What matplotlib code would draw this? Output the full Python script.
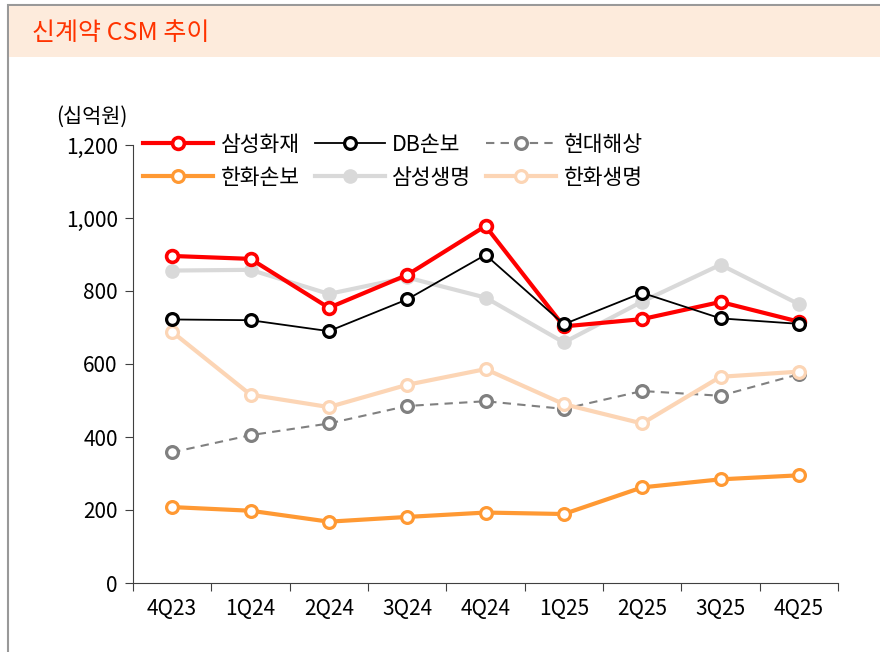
import matplotlib.pyplot as plt
from matplotlib.patches import Rectangle
import numpy as np

plt.rcParams['font.family'] = ['Noto Sans CJK KR', 'DejaVu Sans']

quarters = ['4Q23', '1Q24', '2Q24', '3Q24', '4Q24', '1Q25', '2Q25', '3Q25', '4Q25']
samsung_fire = [896, 888, 754, 844, 978, 703, 723, 770, 716]
db_ins = [722, 720, 690, 777, 899, 709, 795, 725, 710]
hyundai_marine = [358, 405, 437, 485, 498, 477, 526, 513, 572]
hanwha_gen = [208, 198, 168, 181, 193, 189, 262, 284, 295]
samsung_life = [856, 858, 792, 837, 782, 659, 771, 872, 764]
hanwha_life = [688, 516, 482, 543, 586, 490, 437, 565, 579]

fig = plt.figure(figsize=(8.8, 6.52), dpi=100)

# 바깥 테두리 + 제목 띠
fig.patches.append(Rectangle((8/880, -0.1), 1.0, (652-5)/652 + 0.1, transform=fig.transFigure,
                             facecolor='none', edgecolor='#999999', linewidth=1.5, zorder=0))
fig.patches.append(Rectangle((9/880, (652-57)/652), 1.0, 51/652, transform=fig.transFigure,
                             facecolor='#FDEBDC', edgecolor='none', zorder=1))
fig.text(32/880, (652-33)/652, '신계약 CSM 추이', color='#FF3300', fontsize=18, va='center', ha='left')
fig.text(128/880, (652-117)/652, '(십억원)', fontsize=15, va='center', ha='right')

ax = fig.add_axes([133/880, 69/652, 705/880, 438/652])
ax.set_zorder(3)
ax.patch.set_alpha(0)
x = np.arange(len(quarters))

h1, = ax.plot(x, samsung_fire, color='#FF0000', lw=3, marker='o', ms=8.5, mfc='white', mec='#FF0000', mew=2.6, label='삼성화재', zorder=6)
h2, = ax.plot(x, db_ins, color='black', lw=1.3, marker='o', ms=8.5, mfc='white', mec='black', mew=2.3, label='DB손보', zorder=7)
h3, = ax.plot(x, hyundai_marine, color='#808080', lw=1.5, ls=(0, (4, 3)), marker='o', ms=8.5, mfc='white', mec='#808080', mew=2.3, label='현대해상', zorder=3)
h4, = ax.plot(x, hanwha_gen, color='#FF9933', lw=3, marker='o', ms=8.5, mfc='white', mec='#FF9933', mew=2.3, label='한화손보', zorder=4)
h5, = ax.plot(x, samsung_life, color='#D9D9D9', lw=3, marker='o', ms=9.5, mfc='#D9D9D9', mec='#D9D9D9', label='삼성생명', zorder=5)
h6, = ax.plot(x, hanwha_life, color='#FCD5B5', lw=3, marker='o', ms=8.5, mfc='white', mec='#FCD5B5', mew=2.3, label='한화생명', zorder=4)

ax.set_xlim(-0.5, len(quarters) - 0.5)
ax.set_ylim(0, 1200)
ax.set_yticks(np.arange(0, 1201, 200))
ax.set_yticklabels(['{:,}'.format(v) for v in range(0, 1201, 200)], fontsize=15)
ax.set_xticks(np.arange(-0.5, len(quarters), 1))
ax.set_xticklabels([])
ax.set_xticks(x, minor=True)
ax.set_xticklabels(quarters, minor=True, fontsize=15)
ax.tick_params(axis='x', which='major', direction='out', length=6, color='#404040')
ax.tick_params(axis='x', which='minor', length=0, pad=11)
ax.tick_params(axis='y', direction='out', length=6, color='#404040', pad=5)

ax.spines['right'].set_visible(False)
ax.spines['top'].set_visible(False)
ax.spines['left'].set_color('#404040')
ax.spines['bottom'].set_color('#404040')

ax.legend([h1, h4, h2, h5, h3, h6], ['삼성화재', '한화손보', 'DB손보', '삼성생명', '현대해상', '한화생명'],
          ncol=3, loc='upper left', bbox_to_anchor=(143/880, (652-134)/652), bbox_transform=fig.transFigure,
          frameon=False, fontsize=15.5, handlelength=3.25, handletextpad=0.35, columnspacing=0.7,
          labelspacing=0.5, borderpad=0, borderaxespad=0)

fig.savefig('out.png', dpi=100)
